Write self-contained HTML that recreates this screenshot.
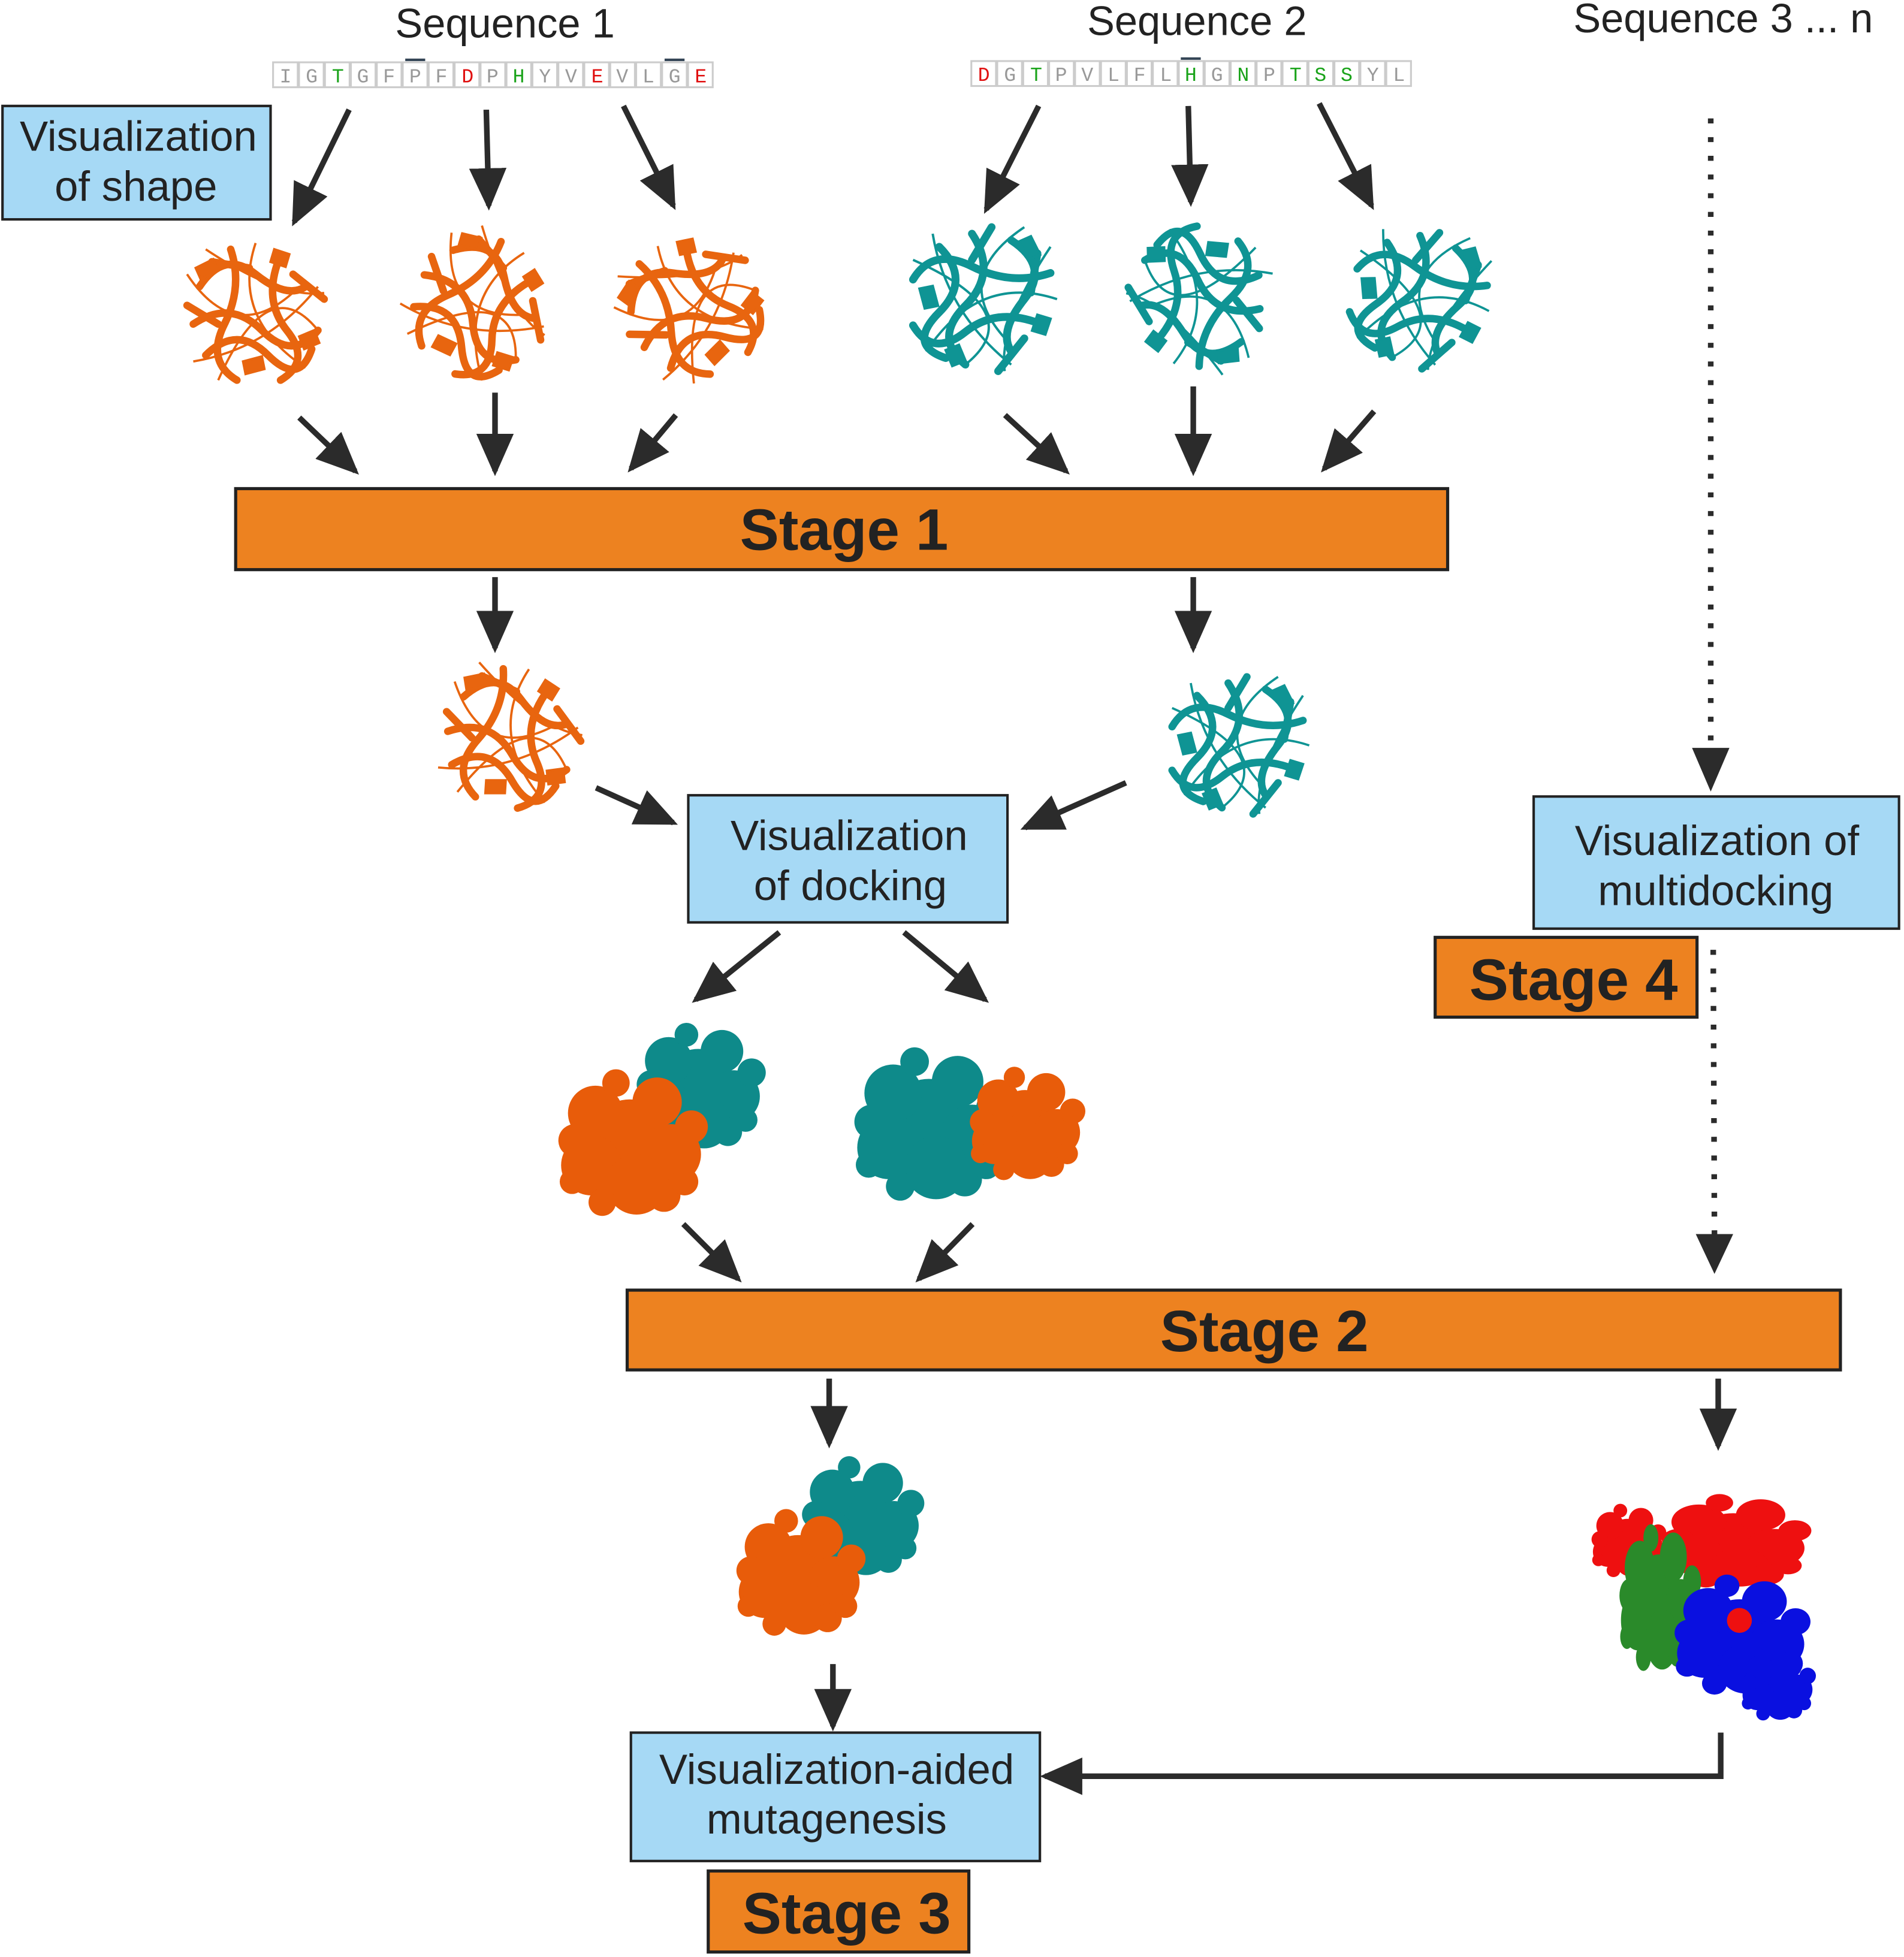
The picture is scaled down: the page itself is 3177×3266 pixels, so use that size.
<!DOCTYPE html>
<html><head><meta charset="utf-8"><style>
html,body{margin:0;padding:0;background:#fff}
svg{display:block}
text{font-family:"Liberation Sans",sans-serif}
text.seq{font-family:"Liberation Mono",monospace;font-size:16px}
</style></head><body>
<svg width="3177" height="3266" viewBox="0 0 1527 1570" preserveAspectRatio="none" xmlns="http://www.w3.org/2000/svg">
<defs>
<marker id="ah" markerUnits="userSpaceOnUse" markerWidth="34" markerHeight="34" viewBox="0 0 34 34" refX="30" refY="17" orient="auto">
<path d="M0,2 L34,17 L0,32 Z" fill="#2b2b2b"/>
</marker>
<g id="cart">
<path d="M-45,-20 q20,-30 45,-10 t40,10 M-50,10 q30,-20 55,5 t45,0 M-40,35 q25,-25 50,0 t35,-5 M-20,-50 q10,30 -5,60 t10,45 M20,-45 q-15,35 5,60 t-5,40 M-55,-5 l25,15 M30,-30 l25,20 M-35,-40 l30,5" stroke-width="6" fill="none" stroke-linecap="round"/>
<path d="M-55,-30 q40,60 90,10 M-30,55 q40,-90 80,-40 M-50,40 q60,-10 100,-60 M0,-55 q-20,60 40,100 M-40,-50 q60,40 95,35" stroke-width="1.8" fill="none"/>
<path d="M-48,-35 l14,-7 l4,9 l-14,7z M35,20 l12,-5 l4,10 l-12,5z M-10,40 l15,-4 l2,10 l-15,4z M15,-50 l12,4 l-3,10 l-12,-4z" stroke-width="2"/>
</g>
<g id="blob">
<circle cx="0" cy="0" r="30"/><circle cx="-25" cy="-20" r="20"/><circle cx="20" cy="-28" r="18"/><circle cx="30" cy="10" r="22"/><circle cx="-28" cy="18" r="22"/><circle cx="5" cy="32" r="22"/><circle cx="-40" cy="0" r="12"/><circle cx="45" cy="-10" r="12"/><circle cx="-10" cy="-42" r="10"/><circle cx="25" cy="40" r="12"/><circle cx="-20" cy="45" r="10"/><circle cx="40" cy="30" r="10"/><circle cx="-42" cy="30" r="9"/>
</g>
<g id="cells">
<rect x="0" y="0" width="19.8" height="20"/><rect x="20.8" y="0" width="19.8" height="20"/><rect x="41.6" y="0" width="19.8" height="20"/><rect x="62.4" y="0" width="19.8" height="20"/><rect x="83.2" y="0" width="19.8" height="20"/><rect x="104" y="0" width="19.8" height="20"/><rect x="124.8" y="0" width="19.8" height="20"/><rect x="145.6" y="0" width="19.8" height="20"/><rect x="166.4" y="0" width="19.8" height="20"/><rect x="187.2" y="0" width="19.8" height="20"/><rect x="208" y="0" width="19.8" height="20"/><rect x="228.8" y="0" width="19.8" height="20"/><rect x="249.6" y="0" width="19.8" height="20"/><rect x="270.4" y="0" width="19.8" height="20"/><rect x="291.2" y="0" width="19.8" height="20"/><rect x="312" y="0" width="19.8" height="20"/><rect x="332.8" y="0" width="19.8" height="20"/>
</g>
</defs>

<text x="405" y="30" font-size="33" text-anchor="middle" fill="#222">Sequence 1</text>
<text x="960" y="28" font-size="33" text-anchor="middle" fill="#222">Sequence 2</text>
<text x="1382" y="26" font-size="33" text-anchor="middle" fill="#222">Sequence 3 ... n</text>

<g fill="#fff" stroke="#ccc" stroke-width="1.5">
<use href="#cells" transform="translate(219,50)"/>
<use href="#cells" transform="translate(779,49)"/>
</g>
<g text-anchor="middle" fill="#999">
<text class="seq" x="229" y="66">I</text><text class="seq" x="250" y="66">G</text><text class="seq" x="271" y="66" fill="#1aa31a">T</text><text class="seq" x="291" y="66">G</text><text class="seq" x="312" y="66">F</text><text class="seq" x="333" y="66">P</text><text class="seq" x="354" y="66">F</text><text class="seq" x="375" y="66" fill="#e01010">D</text><text class="seq" x="395" y="66">P</text><text class="seq" x="416" y="66" fill="#1aa31a">H</text><text class="seq" x="437" y="66">Y</text><text class="seq" x="458" y="66">V</text><text class="seq" x="479" y="66" fill="#e01010">E</text><text class="seq" x="499" y="66">V</text><text class="seq" x="520" y="66">L</text><text class="seq" x="541" y="66">G</text><text class="seq" x="562" y="66" fill="#e01010">E</text>
</g>
<g text-anchor="middle" fill="#999">
<text class="seq" x="789" y="65" fill="#e01010">D</text><text class="seq" x="810" y="65">G</text><text class="seq" x="831" y="65" fill="#1aa31a">T</text><text class="seq" x="851" y="65">P</text><text class="seq" x="872" y="65">V</text><text class="seq" x="893" y="65">L</text><text class="seq" x="914" y="65">F</text><text class="seq" x="935" y="65">L</text><text class="seq" x="955" y="65" fill="#1aa31a">H</text><text class="seq" x="976" y="65">G</text><text class="seq" x="997" y="65" fill="#1aa31a">N</text><text class="seq" x="1018" y="65">P</text><text class="seq" x="1039" y="65" fill="#1aa31a">T</text><text class="seq" x="1059" y="65" fill="#1aa31a">S</text><text class="seq" x="1080" y="65" fill="#1aa31a">S</text><text class="seq" x="1101" y="65">Y</text><text class="seq" x="1122" y="65">L</text>
</g>
<rect x="325" y="47" width="16" height="2" fill="#345"/><rect x="533" y="47" width="16" height="2" fill="#345"/><rect x="947" y="46" width="16" height="2" fill="#345"/>

<rect x="2" y="85" width="215" height="91" fill="#a6d9f5" stroke="#222" stroke-width="2"/>
<text x="111" y="121" font-size="34" text-anchor="middle" fill="#222">Visualization</text>
<text x="109" y="161" font-size="34" text-anchor="middle" fill="#222">of shape</text>

<g stroke="#2b2b2b" stroke-width="4.5" fill="none" marker-end="url(#ah)">
<line x1="280" y1="88" x2="236" y2="178"/>
<line x1="390" y1="88" x2="392" y2="165"/>
<line x1="500" y1="85" x2="540" y2="165"/>
<line x1="833" y1="85" x2="791" y2="168"/>
<line x1="953" y1="85" x2="955" y2="162"/>
<line x1="1058" y1="83" x2="1100" y2="165"/>
<line x1="240" y1="335" x2="285" y2="378"/>
<line x1="397" y1="315" x2="397" y2="378"/>
<line x1="542" y1="333" x2="506" y2="376"/>
<line x1="806" y1="333" x2="855" y2="378"/>
<line x1="957" y1="310" x2="957" y2="378"/>
<line x1="1102" y1="330" x2="1062" y2="376"/>
<line x1="397" y1="463" x2="397" y2="520"/>
<line x1="957" y1="463" x2="957" y2="520"/>
<line x1="478" y1="632" x2="540" y2="660"/>
<line x1="903" y1="628" x2="822" y2="664"/>
<line x1="625" y1="748" x2="558" y2="802"/>
<line x1="725" y1="748" x2="790" y2="802"/>
<line x1="548" y1="982" x2="592" y2="1026"/>
<line x1="780" y1="982" x2="737" y2="1026"/>
<line x1="665" y1="1106" x2="665" y2="1158"/>
<line x1="1378" y1="1106" x2="1378" y2="1160"/>
<line x1="668" y1="1335" x2="668" y2="1385"/>
<path d="M1380,1390 L1380,1425 L838,1425"/>
</g>
<g stroke="#2b2b2b" stroke-width="4.5" stroke-dasharray="4,11" fill="none">
<line x1="1372" y1="95" x2="1372" y2="608"/>
<line x1="1374" y1="762" x2="1375" y2="992"/>
</g>
<path d="M1357,600 L1387,600 L1372,635 Z M1360,990 L1390,990 L1375,1022 Z" fill="#2b2b2b"/>

<g fill="#e8650f" stroke="#e8650f">
<use href="#cart" transform="translate(205,250)"/>
<use href="#cart" transform="translate(385,245) rotate(40)"/>
<use href="#cart" transform="translate(555,245) rotate(-30)"/>
<use href="#cart" transform="translate(410,590) rotate(15)"/>
</g>
<g fill="#0f9494" stroke="#0f9494">
<use href="#cart" transform="translate(790,240) rotate(90) scale(1.05)"/>
<use href="#cart" transform="translate(960,240) rotate(200)"/>
<use href="#cart" transform="translate(1140,240) rotate(100)"/>
<use href="#cart" transform="translate(995,598) rotate(90)"/>
</g>

<rect x="189" y="392" width="972" height="65" fill="#ed8220" stroke="#222" stroke-width="2.5"/>
<text x="677" y="441" font-size="47" font-weight="bold" text-anchor="middle" fill="#222">Stage 1</text>

<rect x="552" y="638" width="256" height="102" fill="#a6d9f5" stroke="#222" stroke-width="2"/>
<text x="681" y="682" font-size="34" text-anchor="middle" fill="#222">Visualization</text>
<text x="682" y="722" font-size="34" text-anchor="middle" fill="#222">of docking</text>

<g fill="#0e8a8a"><use href="#blob" transform="translate(560,870) scale(0.95)"/></g>
<g fill="#e85c0a"><use href="#blob" transform="translate(505,915) scale(1.1)"/></g>
<g fill="#0e8a8a"><use href="#blob" transform="translate(745,900) scale(1.15)"/></g>
<g fill="#e85c0a"><use href="#blob" transform="translate(822,900) scale(0.85)"/></g>
<g fill="#0e8a8a"><use href="#blob" transform="translate(690,1215) scale(0.9)"/></g>
<g fill="#e85c0a"><use href="#blob" transform="translate(640,1260) scale(0.95)"/></g>

<g fill="#ee1010"><use href="#blob" transform="translate(1390,1235) scale(1.1,0.7)"/><use href="#blob" transform="translate(1305,1235) scale(0.55)"/></g>
<g fill="#2a8a2a"><use href="#blob" transform="translate(1330,1280) scale(0.6,1.1)"/></g>
<g fill="#0a10e0"><use href="#blob" transform="translate(1395,1310) scale(1.0,0.9)"/><use href="#blob" transform="translate(1425,1350) scale(0.55)"/></g>
<circle cx="1395" cy="1300" r="10" fill="#ee1010"/>

<rect x="503" y="1035" width="973" height="64" fill="#ed8220" stroke="#222" stroke-width="2.5"/>
<text x="1014" y="1084" font-size="47" font-weight="bold" text-anchor="middle" fill="#222">Stage 2</text>

<rect x="506" y="1390" width="328" height="103" fill="#a6d9f5" stroke="#222" stroke-width="2"/>
<text x="671" y="1431" font-size="34" text-anchor="middle" fill="#222">Visualization-aided</text>
<text x="663" y="1471" font-size="34" text-anchor="middle" fill="#222">mutagenesis</text>

<rect x="568" y="1501" width="209" height="65" fill="#ed8220" stroke="#222" stroke-width="2.5"/>
<text x="679" y="1551" font-size="47" font-weight="bold" text-anchor="middle" fill="#222">Stage 3</text>

<rect x="1230" y="639" width="293" height="106" fill="#a6d9f5" stroke="#222" stroke-width="2"/>
<text x="1377" y="686" font-size="34" text-anchor="middle" fill="#222">Visualization of</text>
<text x="1376" y="726" font-size="34" text-anchor="middle" fill="#222">multidocking</text>

<rect x="1151" y="752" width="210" height="64" fill="#ed8220" stroke="#222" stroke-width="2.5"/>
<text x="1262" y="802" font-size="47" font-weight="bold" text-anchor="middle" fill="#222">Stage 4</text>
</svg>
</body></html>
